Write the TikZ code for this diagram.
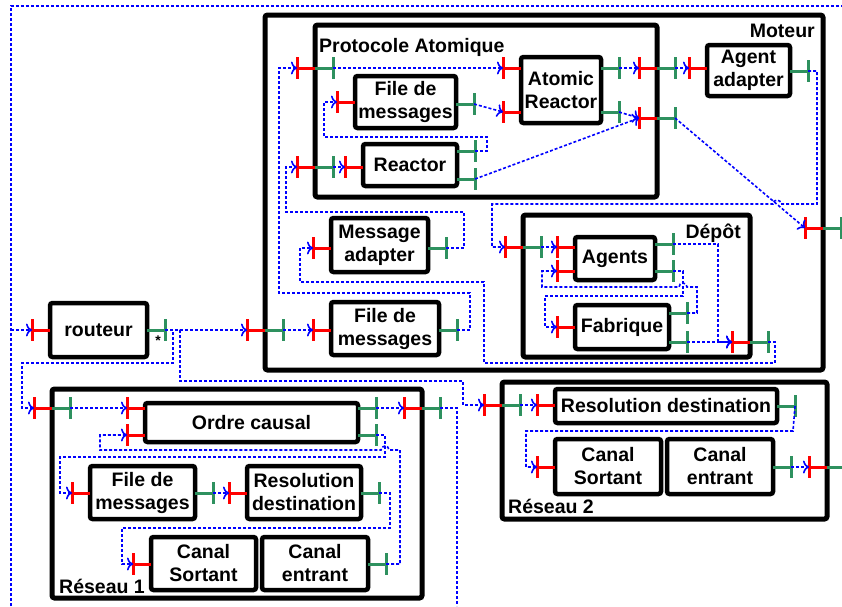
\documentclass[tikz,border=0pt]{standalone}
\usepackage{fontspec}
\setmainfont{Liberation Sans}
\usetikzlibrary{arrows.meta,calc}
\definecolor{pgreen}{RGB}{46,145,95}
\definecolor{pblue}{RGB}{0,0,255}
\definecolor{pred}{RGB}{255,0,0}
\newcommand\inport[3]{%
  \coordinate (#1) at (#2-18,#3);
  \draw[redp] (#1) -- (#2,#3);
  \draw[redp] (#1) ++(0,-11) -- ++(0,22);}
\newcommand\outport[3]{%
  \coordinate (#1) at (#2+18,#3);
  \draw[greenp] (#2,#3) -- (#1);
  \draw[greenp] (#1) ++(0,-11) -- ++(0,22);}
\newcommand\bport[3]{%
  \coordinate (#1-r) at (#2-18,#3);
  \coordinate (#1-g) at (#2+18,#3);
  \draw[redp] (#1-r) -- (#2,#3);
  \draw[greenp] (#2,#3) -- (#1-g);
  \draw[redp] (#1-r) ++(0,-11) -- ++(0,22);
  \draw[greenp] (#1-g) ++(0,-11) -- ++(0,22);}
\begin{document}
\begin{tikzpicture}[x=1pt,y=-1pt,
 box/.style={draw, line width=4.5pt, rounded corners=2.5pt, fill=white, inner sep=0pt, align=center, font=\bfseries\fontsize{19.5}{23}\selectfont},
 container/.style={draw, line width=5pt, rounded corners=2.5pt, inner sep=0pt},
 lbl/.style={font=\bfseries\fontsize{19.5}{23}\selectfont, inner sep=0pt},
 redp/.style={draw=pred, line width=3pt},
 greenp/.style={draw=pgreen, line width=3pt},
 conn/.style={draw=pblue, line width=1.6pt, dash pattern=on 3pt off 2pt},
 arr/.style={conn, -{To[length=6pt,width=13pt]}},
]
\useasboundingbox (0,0) rectangle (842,606);
\clip (0,0) rectangle (842,606);
% containers
\node[container, minimum width=558pt, minimum height=355pt] (moteur) at (544,192.5) {};
\node[container, minimum width=342pt, minimum height=172pt] (pa) at (486,111) {};
\node[container, minimum width=227pt, minimum height=142pt] (depot) at (636.5,286) {};
\node[container, minimum width=370pt, minimum height=209pt] (reseau1) at (237,493.5) {};
\node[container, minimum width=325pt, minimum height=137pt] (reseau2) at (664.5,450.5) {};
% labels
\node[lbl, anchor=base east] (lmoteur) at (815,37) {Moteur};
\node[lbl, anchor=base west] (lpa) at (319,52) {Protocole Atomique};
\node[lbl, anchor=base east] (ldepot) at (741,238) {Dépôt};
\node[lbl, anchor=base west] (lr1) at (59,593) {Réseau 1};
\node[lbl, anchor=base west] (lr2) at (508,513) {Réseau 2};
\node[font=\bfseries\fontsize{14}{14}\selectfont, inner sep=0pt] (star) at (158,341) {*};
% boxes
\node[box, minimum width=80pt, minimum height=66pt] (ar) at (561,90) {Atomic\\Reactor};
\node[box, minimum width=101pt, minimum height=52pt] (fdm1) at (405.5,102) {File de\\messages};
\node[box, minimum width=94pt, minimum height=42pt] (reactor) at (410,165) {Reactor};
\node[box, minimum width=83pt, minimum height=51pt] (aa) at (748.5,70.5) {Agent\\adapter};
\node[box, minimum width=97pt, minimum height=54pt] (ma) at (379.5,245) {Message\\adapter};
\node[box, minimum width=108pt, minimum height=53pt] (fdm2) at (385,328.5) {File de\\messages};
\node[box, minimum width=80pt, minimum height=43pt] (agents) at (615,258.5) {Agents};
\node[box, minimum width=94pt, minimum height=44pt] (fabrique) at (622,327) {Fabrique};
\node[box, minimum width=97pt, minimum height=54pt] (routeur) at (98.5,330) {routeur};
\node[box, minimum width=213pt, minimum height=39pt] (oc) at (251.5,422.5) {Ordre causal};
\node[box, minimum width=105pt, minimum height=53pt] (fdm3) at (142.5,492.5) {File de\\messages};
\node[box, minimum width=114pt, minimum height=53pt] (rd1) at (304,492.5) {Resolution\\destination};
\node[box, minimum width=105pt, minimum height=53pt] (cs1) at (203.5,563.5) {Canal\\Sortant};
\node[box, minimum width=106pt, minimum height=53pt] (ce1) at (315,563.5) {Canal\\entrant};
\node[box, minimum width=222pt, minimum height=34pt] (rd2) at (666,406) {Resolution destination};
\node[box, minimum width=106pt, minimum height=55pt] (cs2) at (608,466.5) {Canal\\Sortant};
\node[box, minimum width=106pt, minimum height=55pt] (ce2) at (720,466.5) {Canal\\entrant};
% input ports
\inport{ar-i1}{521}{68}
\inport{ar-i2}{521}{112}
\inport{fdm1-i}{355}{102}
\inport{re-i}{363}{167}
\inport{aa-i}{707}{68}
\inport{ma-i}{331}{248}
\inport{fdm2-i}{331}{330}
\inport{ag-i1}{575}{247}
\inport{ag-i2}{575}{271}
\inport{fa-i}{575}{327}
\inport{ro-i}{50}{330}
\inport{oc-i1}{145}{408}
\inport{oc-i2}{145}{435}
\inport{fdm3-i}{90}{493}
\inport{rd1-i}{247}{493}
\inport{cs1-i}{151}{564}
\inport{rd2-i}{555}{405}
\inport{cs2-i}{555}{467}
% output ports
\outport{ar-o1}{601}{68}
\outport{ar-o2}{601}{112}
\outport{fdm1-o}{456}{104}
\outport{re-o1}{457}{151}
\outport{re-o2}{457}{179}
\outport{aa-o}{790}{71}
\outport{ma-o}{428}{248}
\outport{fdm2-o}{439}{330}
\outport{ag-o1}{655}{244}
\outport{ag-o2}{655}{271}
\outport{fa-o1}{669}{313}
\outport{fa-o2}{669}{342}
\outport{ro-o}{147}{330}
\outport{oc-o1}{358}{408}
\outport{oc-o2}{358}{435}
\outport{fdm3-o}{195}{493}
\outport{rd1-o}{361}{493}
\outport{ce1-o}{368}{564}
\outport{rd2-o}{777}{406}
\outport{ce2-o}{773}{467}
% boundary ports
\bport{pa-b1}{315}{68}
\bport{pa-b2}{315}{167}
\bport{pa-b3}{657}{68}
\bport{pa-b4}{657}{118}
\bport{mo-b1}{265}{330}
\bport{mo-b2}{823}{228}
\bport{de-b1}{523}{247}
\bport{de-b2}{750}{342}
\bport{r1-b1}{52}{408}
\bport{r1-b2}{422}{408}
\bport{r2-b1}{502}{405}
\bport{r2-b2}{827}{467}
% free ends
\coordinate (loopB) at (11,606);
\coordinate (loopC) at (11,6);
\coordinate (loopE) at (842,6);
\coordinate (loopR) at (11,330);
\coordinate (r1out) at (457,606);
% connectors
\draw[conn] (loopB) -- (loopC) -- (loopE);
\draw[arr] (loopR) -- (ro-i);
\draw[arr] (ro-o) -- (mo-b1-r);
\draw[arr] (ro-o) -- (173,330) -- (173,363) -- (22,363) -- (22,408) -- (r1-b1-r);
\draw[arr] (ro-o) -- (180,330) -- (180,381) -- (463,381) -- (463,405) -- (r2-b1-r);
\draw[arr] (mo-b1-g) -- (fdm2-i);
\draw[arr] (fdm2-o) -- (470,330) -- (470,293) -- (279,293) -- (279,68) -- (pa-b1-r);
\draw[arr] (ma-o) -- (464,248) -- (464,212) -- (286,212) -- (286,167) -- (pa-b2-r);
\draw[arr] (de-b2-g) -- (775,342) -- (775,363) -- (484,363) -- (484,282) -- (300,282) -- (300,248) -- (ma-i);
\draw[arr] (pa-b1-g) -- (ar-i1);
\draw[arr] (pa-b2-g) -- (re-i);
\draw[arr] (re-o1) -- (487,151) -- (487,137) -- (324,137) -- (324,102) -- (fdm1-i);
\draw[arr] (fdm1-o) -- (ar-i2);
\draw[arr] (ar-o1) -- (pa-b3-r);
\draw[arr] (ar-o2) -- (pa-b4-r);
\draw[arr] (re-o2) -- (pa-b4-r);
\draw[arr] (pa-b3-g) -- (aa-i);
\draw[arr] (pa-b4-g) -- (mo-b2-r);
\draw[arr] (aa-o) -- (817,71) -- (817,204) -- (781,204) arc[start angle=0, end angle=-180, radius=4] -- (492,204) -- (492,247) -- (de-b1-r);
\draw[arr] (de-b1-g) -- (ag-i1);
\draw[arr] (ag-o1) -- (718,244) -- (718,342) -- (de-b2-r);
\draw[arr] (fa-o2) -- (de-b2-r);
\draw[arr] (ag-o2) -- (683,271) -- (683,296) -- (545,296) -- (545,327) -- (fa-i);
\draw[arr] (fa-o1) -- (697,313) -- (697,287) -- (687,287) arc[start angle=0, end angle=-180, radius=4] -- (542,287) -- (542,271) -- (ag-i2);
\draw[arr] (r1-b1-g) -- (oc-i1);
\draw[arr] (oc-o1) -- (r1-b2-r);
\draw[conn] (r1-b2-g) -- (457,408) -- (r1out);
\draw[arr] (oc-o2) -- (385,435) -- (385,457) -- (60,457) -- (60,493) -- (fdm3-i);
\draw[arr] (ce1-o) -- (400,564) -- (400,450) -- (389,450) arc[start angle=0, end angle=-180, radius=4] -- (100,450) -- (100,435) -- (oc-i2);
\draw[arr] (fdm3-o) -- (rd1-i);
\draw[arr] (rd1-o) -- (390,493) -- (390,528) -- (122,528) -- (122,564) -- (cs1-i);
\draw[arr] (r2-b1-g) -- (rd2-i);
\draw[arr] (rd2-o) -- (793,431) -- (526,431) -- (526,467) -- (cs2-i);
\draw[arr] (ce2-o) -- (r2-b2-r);
\end{tikzpicture}
\end{document}
